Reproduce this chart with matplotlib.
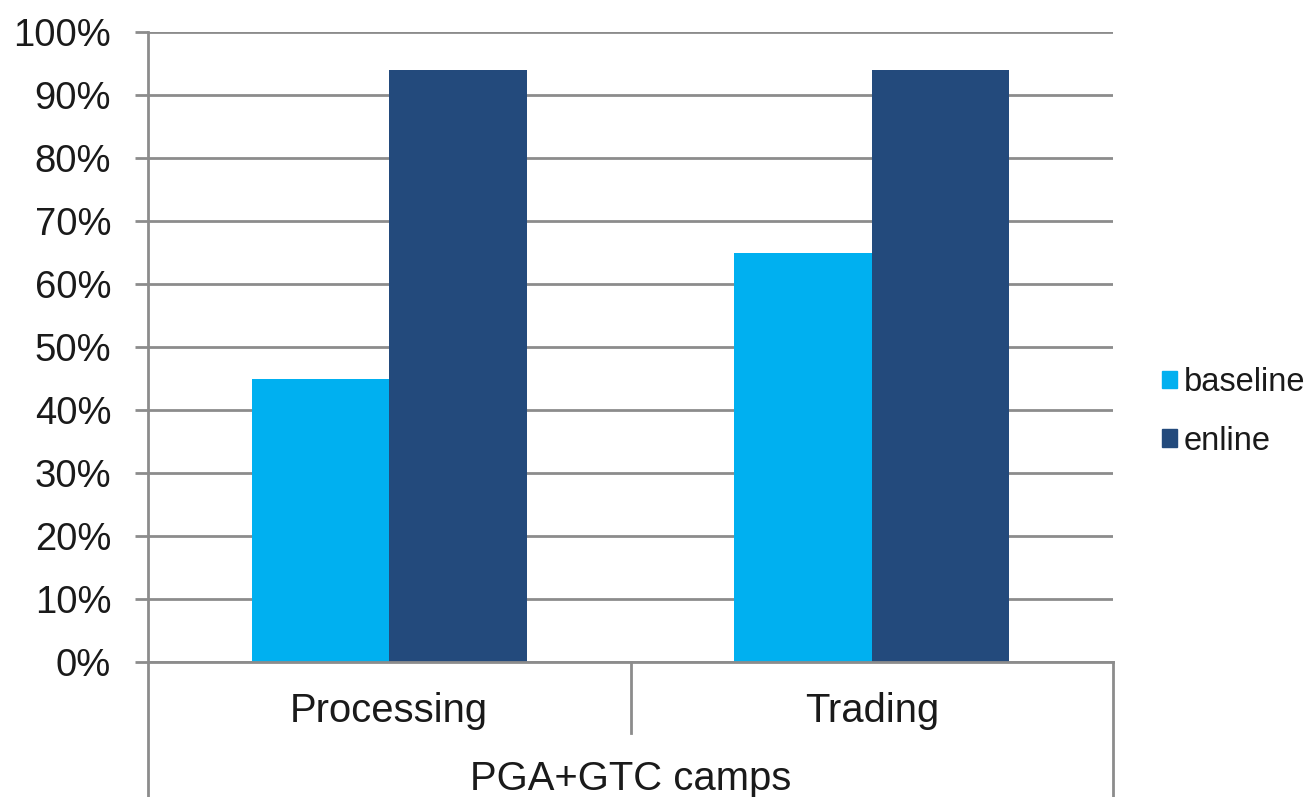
import numpy as np
import matplotlib.pyplot as plt
from matplotlib.patches import Patch

plt.rcParams['font.family'] = ['Liberation Sans', 'DejaVu Sans']

categories = ['Processing', 'Trading']
group_label = 'PGA+GTC camps'
series_names = ['baseline', 'enline']
baseline = [45, 65]
enline = [94, 94]
yticks = [0, 10, 20, 30, 40, 50, 60, 70, 80, 90, 100]

colors = ['#00b0f0', '#234a7c']
line_col = '#8c8c8c'
text_col = '#1a1a1a'

fig = plt.figure(figsize=(13.14, 7.97), dpi=100)
ax = fig.add_axes([148/1314, 135/797, (1113-148)/1314, 630/797])

x = np.arange(len(categories)) + 0.5
w = 0.285
ax.bar(x - w/2, baseline, w, color=colors[0], zorder=3)
ax.bar(x + w/2, enline, w, color=colors[1], zorder=3)

ax.set_xlim(0, 2)
ax.set_ylim(0, 100)
ax.set_yticks(yticks)
ax.set_yticklabels([f'{t}%' for t in yticks], fontsize=27.5, color=text_col)
ax.set_xticks([])
ax.grid(axis='y', color=line_col, linewidth=2, zorder=0)
ax.tick_params(axis='y', length=9.5, width=2, color=line_col, pad=17)

for s in ['top', 'right']:
    ax.spines[s].set_visible(False)
ax.spines['left'].set_color(line_col)
ax.spines['left'].set_linewidth(2)
ax.spines['bottom'].set_color(line_col)
ax.spines['bottom'].set_linewidth(2)
ax.spines['bottom'].set_zorder(4)

# category box lines below the axis
tr = ax.get_xaxis_transform()
ax.plot([0, 0], [0, -0.25], transform=tr, color=line_col, lw=2, clip_on=False)
ax.plot([1, 1], [0, -0.113], transform=tr, color=line_col, lw=2, clip_on=False)
ax.plot([2, 2], [0, -0.25], transform=tr, color=line_col, lw=2, clip_on=False)

for xi, c in zip(x, categories):
    ax.text(xi, -0.078, c, transform=tr, ha='center', va='center',
            fontsize=28.8, color=text_col)
ax.text(1.0, -0.186, group_label, transform=tr, ha='center', va='center',
        fontsize=28.8, color=text_col)

handles = [Patch(color=colors[0]), Patch(color=colors[1])]
fig.legend(handles, series_names, loc='center left', bbox_to_anchor=(1133/1314, 1 - 412/797),
           frameon=False, fontsize=23.5, handlelength=0.45, handleheight=0.45,
           handletextpad=0.2, labelspacing=0.85, labelcolor=text_col)

fig.savefig('out.png', dpi=100)
